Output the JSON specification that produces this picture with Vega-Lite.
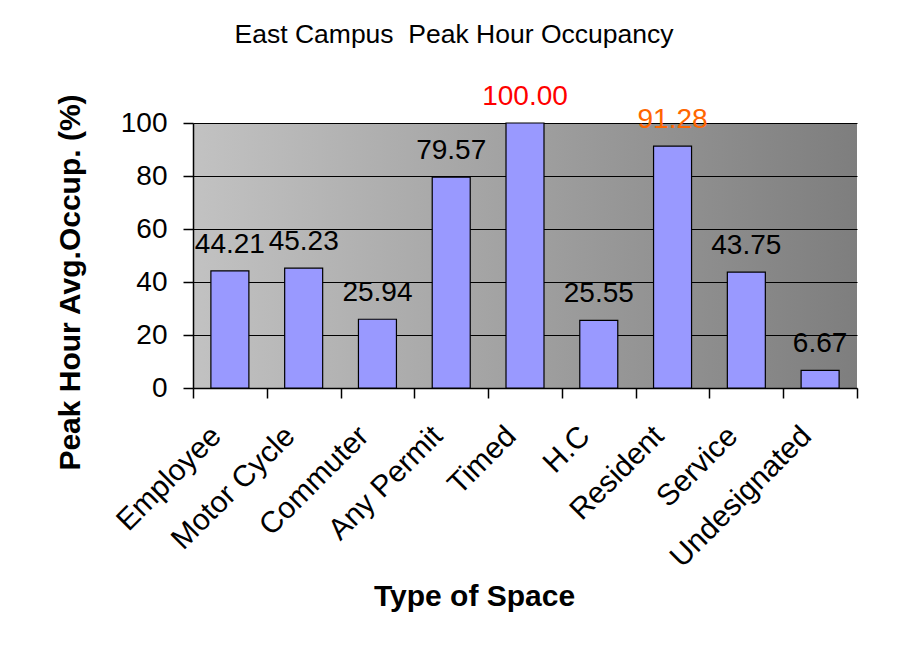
{
  "$schema": "https://vega.github.io/schema/vega-lite/v6.json",
  "width": 664,
  "height": 265,
  "autosize": {"type": "none"},
  "padding": {"left": 193, "top": 123, "right": 49, "bottom": 274},
  "background": "white",
  "title": {
    "text": "East Campus\u00a0 Peak Hour Occupancy",
    "anchor": "middle",
    "frame": "group",
    "dx": -71,
    "dy": -31,
    "fontSize": 26.5,
    "fontWeight": "normal",
    "color": "black",
    "font": "Liberation Sans"
  },
  "data": {
    "values": [
      {"type": "Employee", "value": 44.21},
      {"type": "Motor Cycle", "value": 45.23},
      {"type": "Commuter", "value": 25.94},
      {"type": "Any Permit", "value": 79.57},
      {"type": "Timed", "value": 100.0},
      {"type": "H.C", "value": 25.55},
      {"type": "Resident", "value": 91.28},
      {"type": "Service", "value": 43.75},
      {"type": "Undesignated", "value": 6.67}
    ]
  },
  "encoding": {
    "x": {
      "field": "type",
      "type": "nominal",
      "sort": null,
      "scale": {"paddingInner": 0, "paddingOuter": 0},
      "axis": {
        "title": "Type of Space",
        "titleFontSize": 30,
        "titleFontWeight": "bold",
        "titleColor": "black",
        "titleX": 281,
        "titleY": 217,
        "titleAlign": "center",
        "titleBaseline": "alphabetic",
        "labelAngle": -45,
        "labelAlign": "right",
        "labelBaseline": "middle",
        "labelFontSize": 30,
        "labelLimit": 0,
        "labelColor": "black",
        "labelOffset": -14,
        "labelPadding": 33,
        "tickBand": "extent",
        "tickSize": 10,
        "tickColor": "black",
        "tickWidth": 1.5,
        "domainColor": "black",
        "domainWidth": 1.5,
        "grid": false
      }
    },
    "y": {
      "field": "value",
      "type": "quantitative",
      "scale": {"domain": [0, 100], "nice": false},
      "axis": {
        "title": "Peak Hour Avg.Occup. (%)",
        "titleFontSize": 30,
        "titleFontWeight": "bold",
        "titleColor": "black",
        "titleX": -114,
        "titleY": 159,
        "titleAlign": "center",
        "titleAngle": -90,
        "titleBaseline": "alphabetic",
        "values": [0, 20, 40, 60, 80, 100],
        "labelFontSize": 28,
        "labelColor": "black",
        "labelPadding": 16,
        "tickSize": 10,
        "tickColor": "black",
        "tickWidth": 1.5,
        "domainColor": "black",
        "domainWidth": 1.5,
        "grid": true,
        "gridColor": "black",
        "gridWidth": 1.2,
        "gridOpacity": 1
      }
    }
  },
  "layer": [
    {
      "mark": {"type": "bar", "color": "#9999ff", "stroke": "black", "strokeWidth": 1.2, "width": {"band": 0.515}}
    },
    {
      "mark": {"type": "text", "baseline": "alphabetic", "dy": -18, "fontSize": 28},
      "encoding": {
        "text": {"field": "value", "type": "quantitative", "format": ".2f"},
        "color": {
          "condition": [
            {"test": "datum.value == 100", "value": "#ff0000"},
            {"test": "datum.value == 91.28", "value": "#ff6600"}
          ],
          "value": "black"
        }
      }
    }
  ],
  "config": {
    "font": "Liberation Sans",
    "view": {
      "stroke": null,
      "fill": {
        "gradient": "linear",
        "x1": 0, "y1": 0, "x2": 1, "y2": 0,
        "stops": [
          {"offset": 0, "color": "#c2c2c2"},
          {"offset": 1, "color": "#7e7e7e"}
        ]
      }
    }
  }
}
